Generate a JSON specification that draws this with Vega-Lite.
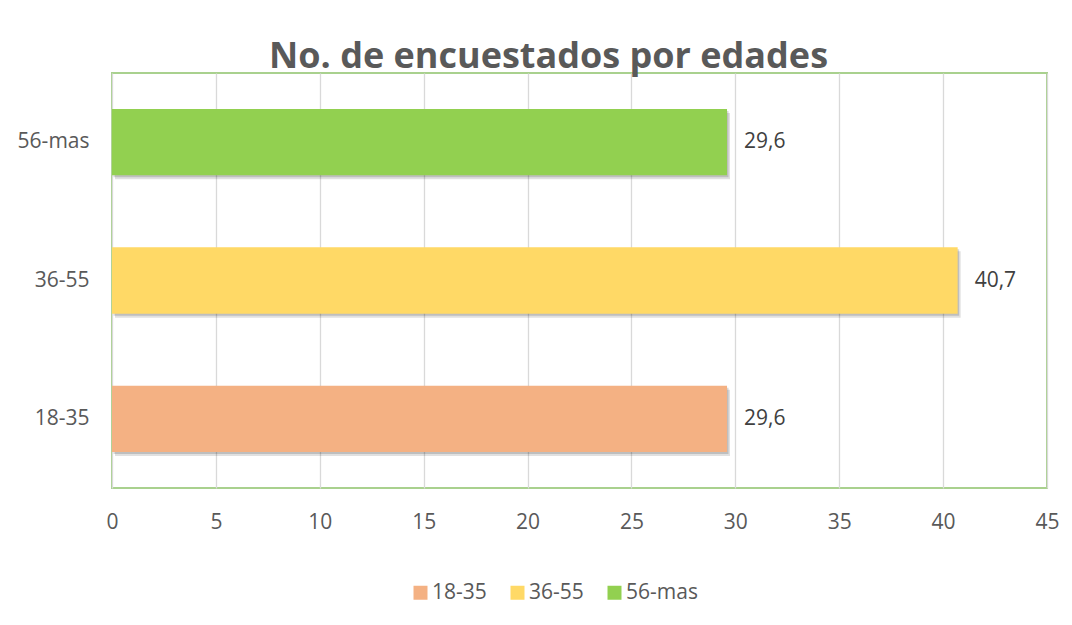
{
  "$schema": "https://vega.github.io/schema/vega-lite/v6.json",
  "width": 935,
  "height": 415,
  "autosize": {"type": "none"},
  "padding": {"left": 112, "top": 73, "right": 25, "bottom": 137},
  "background": "white",
  "config": {
    "font": "Open Sans",
    "locale": {"number": {"decimal": ",", "thousands": ".", "grouping": [3], "currency": ["", " €"]}},
    "view": {"stroke": "#a9d18e", "strokeWidth": 2}
  },
  "title": {
    "text": "No. de encuestados por edades",
    "font": "Open Sans",
    "fontSize": 36,
    "fontWeight": "bold",
    "color": "#595959",
    "anchor": "middle",
    "baseline": "alphabetic",
    "dx": -31,
    "offset": -31
  },
  "data": {
    "values": [
      {"edad": "18-35", "valor": 29.6},
      {"edad": "36-55", "valor": 40.7},
      {"edad": "56-mas", "valor": 29.6}
    ]
  },
  "encoding": {
    "y": {
      "field": "edad",
      "type": "nominal",
      "sort": ["56-mas", "36-55", "18-35"],
      "scale": {"paddingInner": 0.52, "paddingOuter": 0.26},
      "axis": {
        "title": null,
        "domain": false,
        "ticks": false,
        "labelPadding": 23,
        "labelFontSize": 21,
        "labelColor": "#595959",
        "labelFont": "Open Sans"
      }
    },
    "x": {
      "field": "valor",
      "type": "quantitative",
      "scale": {"domain": [0, 45], "nice": false},
      "axis": {
        "title": null,
        "values": [0, 5, 10, 15, 20, 25, 30, 35, 40, 45],
        "domain": false,
        "ticks": false,
        "grid": true,
        "gridColor": "#d9d9d9",
        "gridWidth": 1.3,
        "labelPadding": 23,
        "labelFontSize": 21,
        "labelColor": "#595959",
        "labelFont": "Open Sans",
        "labelFlush": false
      }
    }
  },
  "layer": [
    {
      "mark": {"type": "bar", "color": "#000000", "opacity": 0.12, "xOffset": 3, "yOffset": 4},
      "encoding": {}
    },
    {
      "mark": {"type": "bar", "color": "#000000", "opacity": 0.15, "xOffset": 1.5, "yOffset": 2},
      "encoding": {}
    },
    {
      "mark": {"type": "bar"},
      "encoding": {
        "color": {
          "field": "edad",
          "type": "nominal",
          "scale": {"domain": ["18-35", "36-55", "56-mas"], "range": ["#f4b183", "#ffd966", "#92d050"]},
          "legend": {
            "title": null,
            "orient": "none",
            "direction": "horizontal",
            "legendX": 298,
            "legendY": 509,
            "symbolType": "square",
            "symbolSize": 196,
            "symbolStrokeWidth": 0,
            "symbolOpacity": 1,
            "labelFontSize": 21,
            "labelColor": "#595959",
            "labelFont": "Open Sans",
            "labelOffset": 1,
            "columnPadding": 20
          }
        }
      }
    },
    {
      "mark": {"type": "text", "align": "left", "baseline": "middle", "dx": 17, "fontSize": 21, "color": "#404040", "font": "Open Sans"},
      "encoding": {
        "text": {"field": "valor", "type": "quantitative", "format": ".1f"}
      }
    }
  ]
}
